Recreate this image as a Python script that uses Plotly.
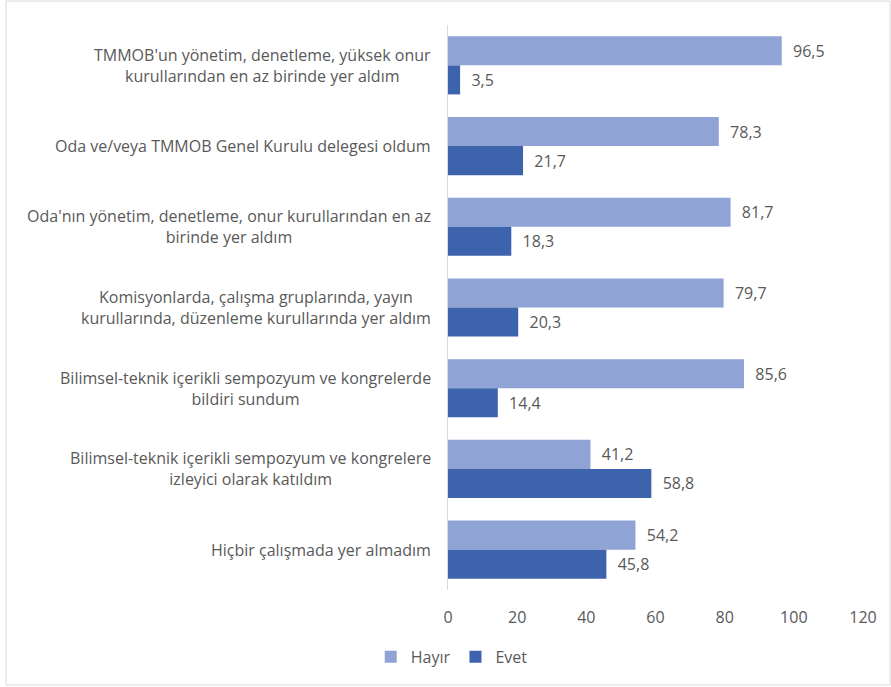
import plotly.graph_objects as go

categories = [
    "TMMOB'un yönetim, denetleme, yüksek onur<br>kurullarından en az birinde yer aldım",
    "Oda ve/veya TMMOB Genel Kurulu delegesi oldum",
    "Oda'nın yönetim, denetleme, onur kurullarından en az<br>birinde yer aldım",
    "Komisyonlarda, çalışma gruplarında, yayın<br>kurullarında, düzenleme kurullarında yer aldım",
    "Bilimsel-teknik içerikli sempozyum ve kongrelerde<br>bildiri sundum",
    "Bilimsel-teknik içerikli sempozyum ve kongrelere<br>izleyici olarak katıldım",
    "Hiçbir çalışmada yer almadım",
]
hayir = [96.5, 78.3, 81.7, 79.7, 85.6, 41.2, 54.2]
evet = [3.5, 21.7, 18.3, 20.3, 14.4, 58.8, 45.8]
x_ticks = [0, 20, 40, 60, 80, 100, 120]

FONT = "Open Sans"
GRAY = "#595959"
FS = 16

def fmt(v):
    return "\u00a0\u00a0" + f"{v:.1f}".replace(".", ",")

fig = go.Figure()
fig.add_trace(go.Bar(
    y=categories, x=hayir, orientation="h", name="Hayır",
    marker=dict(color="#8FA3D5", line=dict(width=0)),
    text=[fmt(v) for v in hayir], textposition="outside",
    textfont=dict(family=FONT, size=FS, color=GRAY), cliponaxis=False,
))
fig.add_trace(go.Bar(
    y=categories, x=evet, orientation="h", name="Evet",
    marker=dict(color="#3D63AD", line=dict(width=0)),
    text=[fmt(v) for v in evet], textposition="outside",
    textfont=dict(family=FONT, size=FS, color=GRAY), cliponaxis=False,
))

for c in categories:
    fig.add_annotation(
        x=0, xref="paper", y=c, yref="y", text=c, showarrow=False,
        xanchor="right", align="center", xshift=-15,
        font=dict(family=FONT, size=FS, color=GRAY),
    )

L, R, T, B = 448, 28, 25, 97
W, H = 891, 687
pw, ph = W - L - R, H - T - B
fig.add_shape(
    type="rect", xref="paper", yref="paper",
    x0=(6 - L) / pw, x1=(890 - L) / pw,
    y0=-(685 - T - ph) / ph, y1=1 + (T - 1) / ph,
    line=dict(color="#D9D9D9", width=1), layer="below",
)

fig.update_layout(
    width=W, height=H,
    margin=dict(l=L, r=R, t=T, b=B),
    paper_bgcolor="white", plot_bgcolor="white",
    barmode="group", bargap=0.28, bargroupgap=0,
    font=dict(family=FONT, color=GRAY, size=FS),
    showlegend=True,
    legend=dict(
        orientation="h", xref="container", x=0.507, xanchor="center",
        yref="container", y=0.044, yanchor="middle",
        font=dict(family=FONT, size=FS, color=GRAY),
        itemwidth=30, tracegroupgap=0,
    ),
    xaxis=dict(
        range=[0, 120], tickvals=x_ticks, showgrid=False, zeroline=False,
        showline=False, ticks="", ticklabelstandoff=16,
        tickfont=dict(family=FONT, size=FS, color=GRAY),
    ),
    yaxis=dict(
        autorange="reversed", showticklabels=False, ticks="",
        showline=True, linecolor="#D9D9D9", linewidth=1, showgrid=False,
    ),
)

fig.write_html(
    "out.html",
    config={"displayModeBar": False},
    post_script="document.body.style.margin='0';document.body.style.overflow='hidden';",
)
